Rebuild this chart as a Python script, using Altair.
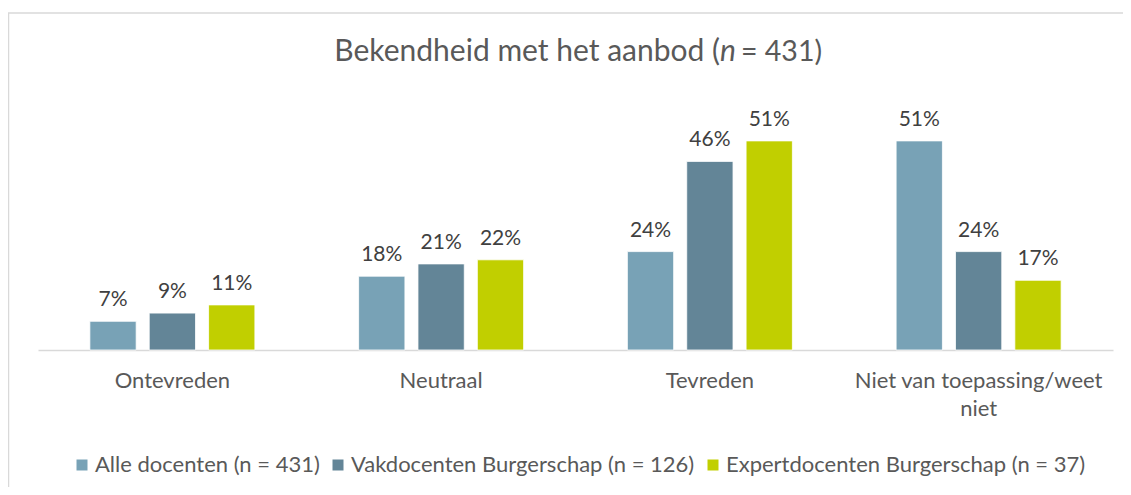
import altair as alt
import pandas as pd

categories = ["Ontevreden", "Neutraal", "Tevreden", "Niet van toepassing/weet niet"]
series = ["Alle docenten (n = 431)", "Vakdocenten Burgerschap (n = 126)", "Expertdocenten Burgerschap (n = 37)"]
alle = [7, 18, 24, 51]
vak = [9, 21, 46, 24]
expert = [11, 22, 51, 17]
colors = ["#78A2B6", "#638597", "#C1CF00"]

FONT = "Lato"

rows = []
for s, vals in zip(series, [alle, vak, expert]):
    for c, v in zip(categories, vals):
        rows.append({"cat": c, "series": s, "value": v, "label": f"{v}%"})
df = pd.DataFrame(rows)

base = alt.Chart(df).encode(
    x=alt.X("cat:N", sort=categories, title=None,
            scale=alt.Scale(paddingInner=0.386, paddingOuter=0.193),
            axis=alt.Axis(labelAngle=0, ticks=False, domainColor="#D9D9D9", domainWidth=1.5,
                          labelFont=FONT, labelFontSize=22, labelColor="#595959",
                          labelPadding=20, labelLineHeight=28, labelBaseline="top", labelLimit=400,
                          labelExpr="datum.value == 'Niet van toepassing/weet niet' ? ['Niet van toepassing/weet', 'niet'] : datum.value")),
    xOffset=alt.XOffset("series:N", sort=series, scale=alt.Scale(paddingInner=0.22, paddingOuter=0)),
    y=alt.Y("value:Q", scale=alt.Scale(domain=[0, 60]), axis=None),
)

bars = base.mark_bar(stroke="#ffffff", strokeWidth=0.8).encode(
    color=alt.Color("series:N", sort=series, title=None,
                    scale=alt.Scale(domain=series, range=colors),
                    legend=alt.Legend(orient="none", direction="horizontal", legendX=33, legendY=350,
                                      symbolType="square", symbolSize=121, symbolStrokeWidth=0,
                                      labelFont=FONT, labelFontSize=22, labelColor="#595959",
                                      labelOffset=2, columnPadding=7, padding=0, labelLimit=500))
)

texts = base.mark_text(font=FONT, fontSize=21, color="#404040", baseline="alphabetic", dy=-15).encode(
    text="label:N"
)

one = pd.DataFrame({"k": [0]})
border_left = alt.Chart(one).mark_rule(color="#D9D9D9", strokeWidth=1.5).encode(
    x=alt.value(-29.5), y=alt.value(-91), y2=alt.value(600)
)
border_top = alt.Chart(one).mark_rule(color="#D9D9D9", strokeWidth=1.5).encode(
    x=alt.value(-30.25), x2=alt.value(1200), y=alt.value(-91)
)

title_left = alt.Chart(one).mark_text(text="Bekendheid met het aanbod (", font=FONT, fontSize=30,
                                      color="#595959", align="right", baseline="middle").encode(
    x=alt.value(682), y=alt.value(-52))
title_n = alt.Chart(one).mark_text(text="n", font=FONT, fontSize=30, fontStyle="italic",
                                   color="#595959", align="center", baseline="middle").encode(
    x=alt.value(690), y=alt.value(-52))
title_right = alt.Chart(one).mark_text(text="= 431)", font=FONT, fontSize=28.5,
                                       color="#595959", align="left", baseline="middle").encode(
    x=alt.value(703), y=alt.value(-52))

chart = alt.layer(border_left, border_top, bars, texts, title_left, title_n, title_right).properties(
    width=1075, height=246,
    padding={"left": 30, "top": 96, "right": 10, "bottom": 137},
    autosize=alt.AutoSizeParams(type="none"),
).configure(background="#ffffff").configure_view(stroke="transparent", strokeWidth=0)

chart.save("out.html", embed_options={"renderer": "svg", "actions": False})
